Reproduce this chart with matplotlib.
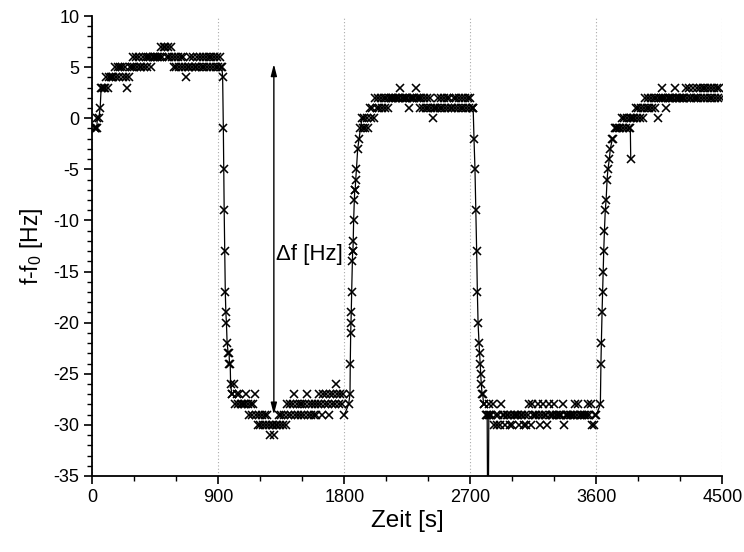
"""Frequency shift f-f0 over time: step response of the resonator."""

import matplotlib
matplotlib.use("Agg")
import matplotlib.pyplot as plt
from matplotlib.ticker import MultipleLocator
import numpy as np

plt.rcParams["font.family"] = ["Liberation Sans", "DejaVu Sans"]
plt.rcParams["axes.unicode_minus"] = False

DT = 10  # logger step on the plateaus [s]

# transitions (line + markers), times [s] and f-f0 [Hz]
rise0_t = [15, 20, 25, 30, 35, 45, 55, 62]
rise0_f = [-1, -1, -1, -1, 0, 0, 1, 3]

fall1_t = [925, 930, 935, 938, 941, 945, 949, 953, 957, 962, 970, 976, 979, 984, 987, 995, 1000]
fall1_f = [5, 4, -1, -5, -9, -13, -17, -19, -20, -22, -23, -23, -24, -24, -26, -27, -27]

rise2_t = [1800, 1830, 1840, 1842, 1845, 1847, 1849, 1852, 1857, 1859, 1861,
           1863, 1866, 1871, 1874, 1877, 1881, 1886, 1895, 1905, 1915, 1925]
rise2_f = [-29, -28, -27, -24, -21, -20, -19, -17, -14, -13, -13,
           -12, -10, -8, -7, -7, -6, -5, -3, -2, -1, 0]

fall3_t = [2720, 2726, 2733, 2739, 2745, 2750, 2755, 2762, 2766, 2770, 2774, 2778, 2784, 2788, 2795]
fall3_f = [1, -2, -5, -9, -13, -17, -20, -22, -23, -24, -25, -26, -27, -27, -28]

rise4_t = [3600, 3629, 3633, 3636, 3641, 3645, 3649, 3653, 3658, 3664, 3670, 3677, 3683, 3693, 3700, 3715, 3722]
rise4_f = [-29, -28, -24, -22, -19, -17, -15, -13, -11, -9, -8, -6, -5, -4, -3, -2, -2]

# single outliers
spike1_t = [2820, 2826, 2832]
spike1_f = [-29, -45, -29]
spike2_t = [3843, 3846]
spike2_f = [-1, -4]

# plateaus (markers only), sampled every DT seconds from *_t0
plateau1_t0 = 70
plateau1_f = [3, 3, 3, 4, 3, 4, 4, 4, 4, 5,
              4, 5, 4, 5, 5, 4, 5, 4, 3, 4,
              5, 5, 6, 5, 6, 5, 6, 5, 5, 6,
              5, 6, 5, 6, 6, 5, 6, 6, 6, 6,
              6, 6, 7, 6, 7, 7, 6, 7, 6, 7,
              6, 5, 6, 5, 6, 5, 6, 5, 6, 5,
              4, 5, 5, 6, 5, 6, 5, 5, 6, 5,
              6, 5, 6, 5, 6, 5, 6, 5, 6, 5,
              6, 5, 6, 5, 6, 5]

plateau2_t0 = 1010
plateau2_f = [-26, -28, -27, -28, -27, -28, -28, -28, -28, -27,
              -28, -29, -28, -29, -28, -27, -29, -30, -29, -30,
              -29, -30, -29, -30, -29, -30, -31, -30, -30, -31,
              -30, -30, -29, -30, -29, -30, -29, -30, -28, -29,
              -28, -29, -28, -27, -29, -28, -29, -28, -29, -28,
              -29, -28, -27, -29, -28, -29, -28, -29, -28, -29,
              -28, -27, -28, -29, -27, -28, -27, -28, -29, -27,
              -28, -27, -28, -26, -27, -28, -27, -28, -27]

plateau3_t0 = 1930
plateau3_f = [-1, 0, -1, 0, -1, 1, 0, 1, 0, 2,
              1, 2, 1, 2, 1, 2, 1, 2, 1, 2,
              2, 2, 2, 2, 2, 2, 2, 3, 2, 2,
              2, 2, 2, 1, 2, 2, 2, 2, 3, 2,
              2, 1, 2, 1, 2, 1, 2, 1, 2, 1,
              0, 1, 1, 1, 2, 1, 2, 1, 2, 1,
              2, 1, 2, 1, 1, 2, 1, 2, 1, 2,
              1, 2, 1, 2, 1, 2, 1, 2, 1, 1]

plateau4_t0 = 2800
plateau4_f = [-28, -29, -29, -28, -29, -29, -28, -30, -29, -30,
              -29, -30, -28, -29, -29, -30, -29, -29, -30, -29,
              -30, -29, -29, -29, -29, -30, -29, -29, -30, -29,
              -30, -29, -28, -30, -28, -29, -29, -29, -28, -29,
              -30, -29, -28, -29, -29, -30, -28, -29, -29, -29,
              -28, -29, -29, -29, -29, -29, -28, -30, -29, -29,
              -29, -29, -29, -29, -29, -28, -29, -28, -29, -29,
              -29, -29, -29, -29, -28, -29, -28, -30, -30, -29]

plateau5_t0 = 3730
plateau5_f = [-1, -1, -1, -1, -1, 0, -1, 0, -1, 0,
              -1, 0, 0, 0, 0, 1, 0, 1, 0, 1,
              0, 1, 2, 1, 2, 1, 2, 1, 2, 1,
              2, 0, 2, 2, 3, 2, 2, 1, 2, 2,
              2, 2, 2, 3, 2, 2, 2, 2, 2, 2,
              2, 3, 2, 3, 2, 2, 3, 2, 2, 3,
              2, 3, 2, 3, 2, 3, 2, 3, 2, 3,
              2, 3, 2, 3, 2, 3, 2]

x_ticks = [0, 900, 1800, 2700, 3600, 4500]
y_ticks = [-35, -30, -25, -20, -15, -10, -5, 0, 5, 10]

# delta-f arrow
arrow_t = 1296
arrow_f = [-29, 5.3]

fig = plt.figure(figsize=(7.44, 5.52), dpi=100)
ax = fig.add_axes([0.1243, 0.1377, 0.8465, 0.8333])

mk = dict(marker="x", ms=5.6, mew=1.15, color="black", zorder=3)

for t0, vals in [(plateau1_t0, plateau1_f), (plateau2_t0, plateau2_f),
                 (plateau3_t0, plateau3_f), (plateau4_t0, plateau4_f),
                 (plateau5_t0, plateau5_f)]:
    t = t0 + DT * np.arange(len(vals))
    ax.plot(t, vals, ls="none", **mk)

for t, f in [(rise0_t, rise0_f), (fall1_t, fall1_f), (rise2_t, rise2_f),
             (fall3_t, fall3_f), (rise4_t, rise4_f), (spike1_t, spike1_f),
             (spike2_t, spike2_f)]:
    ax.plot(t, f, ls="-", lw=0.9, **mk)

ax.annotate("", xy=(arrow_t, arrow_f[1]), xytext=(arrow_t, arrow_f[0]),
            arrowprops=dict(arrowstyle="<|-|>,head_length=0.7,head_width=0.18",
                            color="black", lw=1.0, shrinkA=0, shrinkB=0))
ax.text(arrow_t + 12, -13.3, "Δf [Hz]", fontsize=16, va="center", ha="left")

ax.set_xlim(0, 4500)
ax.set_ylim(-35, 10)
ax.set_xticks(x_ticks)
ax.set_yticks(y_ticks)
ax.xaxis.set_minor_locator(MultipleLocator(300))
ax.yaxis.set_minor_locator(MultipleLocator(1))
ax.xaxis.grid(True, which="major", ls=(0, (1, 2)), color="#aaaaaa", lw=0.8)
ax.set_axisbelow(True)

for side in ["top", "right"]:
    ax.spines[side].set_visible(False)
for side in ["left", "bottom"]:
    ax.spines[side].set_linewidth(1.3)
ax.tick_params(which="major", direction="out", length=6, width=1.2, labelsize=13)
ax.tick_params(which="minor", direction="out", length=3.5, width=1.0)

ax.set_xlabel("Zeit [s]", fontsize=17.5, labelpad=3)
ax.set_ylabel(r"f-f$_\mathregular{0}$ [Hz]", fontsize=16.5, labelpad=6)

fig.savefig("out.png", dpi=100)
